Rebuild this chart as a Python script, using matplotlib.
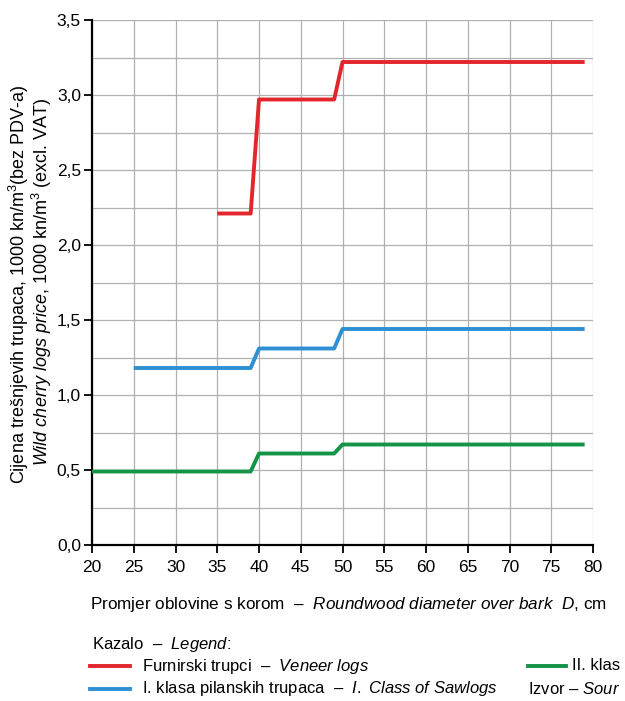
import matplotlib
matplotlib.use("Agg")
import matplotlib.pyplot as plt
from matplotlib.lines import Line2D
from matplotlib.ticker import MultipleLocator, FuncFormatter

plt.rcParams['font.family'] = ['Liberation Sans', 'DejaVu Sans']
plt.rcParams['mathtext.fontset'] = 'custom'
plt.rcParams['mathtext.rm'] = 'Liberation Sans'
plt.rcParams['mathtext.it'] = 'Liberation Sans:italic'

# diameter classes (cm) and prices (1000 kn/m3)
veneer_x = [35, 39, 40, 49, 50, 79]
veneer_y = [2.21, 2.21, 2.97, 2.97, 3.22, 3.22]

saw1_x = [25, 39, 40, 49, 50, 79]
saw1_y = [1.18, 1.18, 1.31, 1.31, 1.44, 1.44]

saw2_x = [20, 39, 40, 49, 50, 79]
saw2_y = [0.49, 0.49, 0.61, 0.61, 0.67, 0.67]

red = '#e3262b'
blue = '#2e8fd2'
green = '#139447'

fig = plt.figure(figsize=(6.25, 7.01), dpi=100)
ax = fig.add_axes([92/625, 1 - 545/701, 501/625, 525/701])

ax.plot(veneer_x, veneer_y, color=red, lw=2.8, solid_capstyle='butt', zorder=3)
ax.plot(saw1_x, saw1_y, color=blue, lw=2.8, solid_capstyle='butt', zorder=3)
ax.plot(saw2_x, saw2_y, color=green, lw=2.8, solid_capstyle='butt', zorder=3)

ax.set_xlim(20, 80)
ax.set_ylim(0, 3.5)
ax.xaxis.set_major_locator(MultipleLocator(5))
ax.yaxis.set_major_locator(MultipleLocator(0.5))
ax.yaxis.set_minor_locator(MultipleLocator(0.25))
ax.yaxis.set_major_formatter(FuncFormatter(lambda v, p: f"{v:.1f}".replace('.', ',')))
ax.grid(True, which='both', color='#b0b0b0', lw=0.9, zorder=0)
ax.tick_params(axis='both', which='major', direction='out', length=6, width=1.3,
               labelsize=12.5, color='black')
ax.tick_params(axis='y', which='minor', length=0)
ax.tick_params(axis='y', pad=2)
ax.tick_params(axis='x', pad=5)
for s in ['top', 'right']:
    ax.spines[s].set_visible(False)
for s in ['left', 'bottom']:
    ax.spines[s].set_linewidth(1.6)

# y axis label, two lines
fig.text(19/625, 1 - 284/701, "Cijena trešnjevih trupaca, 1000 kn/m$^3$(bez PDV-a)",
         rotation=90, ha='center', va='center', fontsize=13)
fig.text(42/625, 1 - 282/701,
         r"$\it{Wild\ cherry\ logs\ price}$, 1000 kn/m$^3$ (excl. VAT)",
         rotation=90, ha='center', va='center', fontsize=13)

# x axis label
fig.text(90/625, 1 - 605/701,
         r"Promjer oblovine s korom  –  $\it{Roundwood\ diameter\ over\ bark\ \ D}$, cm",
         ha='left', va='center', fontsize=12.3)

# legend
fig.text(92/625, 1 - 645/701, r"Kazalo  –  $\it{Legend}$:", ha='left', va='center', fontsize=12)

fig.add_artist(Line2D([90/625, 130/625], [1 - 666/701] * 2, color=red, lw=2.8,
                      transform=fig.transFigure))
fig.text(142/625, 1 - 666/701, r"Furnirski trupci  –  $\it{Veneer\ logs}$",
         ha='left', va='center', fontsize=12)

fig.add_artist(Line2D([90/625, 130/625], [1 - 689/701] * 2, color=blue, lw=2.8,
                      transform=fig.transFigure))
fig.text(142/625, 1 - 689/701,
         r"I. klasa pilanskih trupaca  –  $\it{I.\ Class\ of\ Sawlogs}$",
         ha='left', va='center', fontsize=12)

fig.add_artist(Line2D([528/625, 566/625], [1 - 666/701] * 2, color=green, lw=2.8,
                      transform=fig.transFigure))
fig.text(572/625, 1 - 666/701, "II. klas",
         ha='left', va='center', fontsize=12)
fig.text(528/625, 1 - 689/701, r"Izvor – $\it{Sour}$",
         ha='left', va='center', fontsize=12)

fig.savefig("out.png", dpi=100)
